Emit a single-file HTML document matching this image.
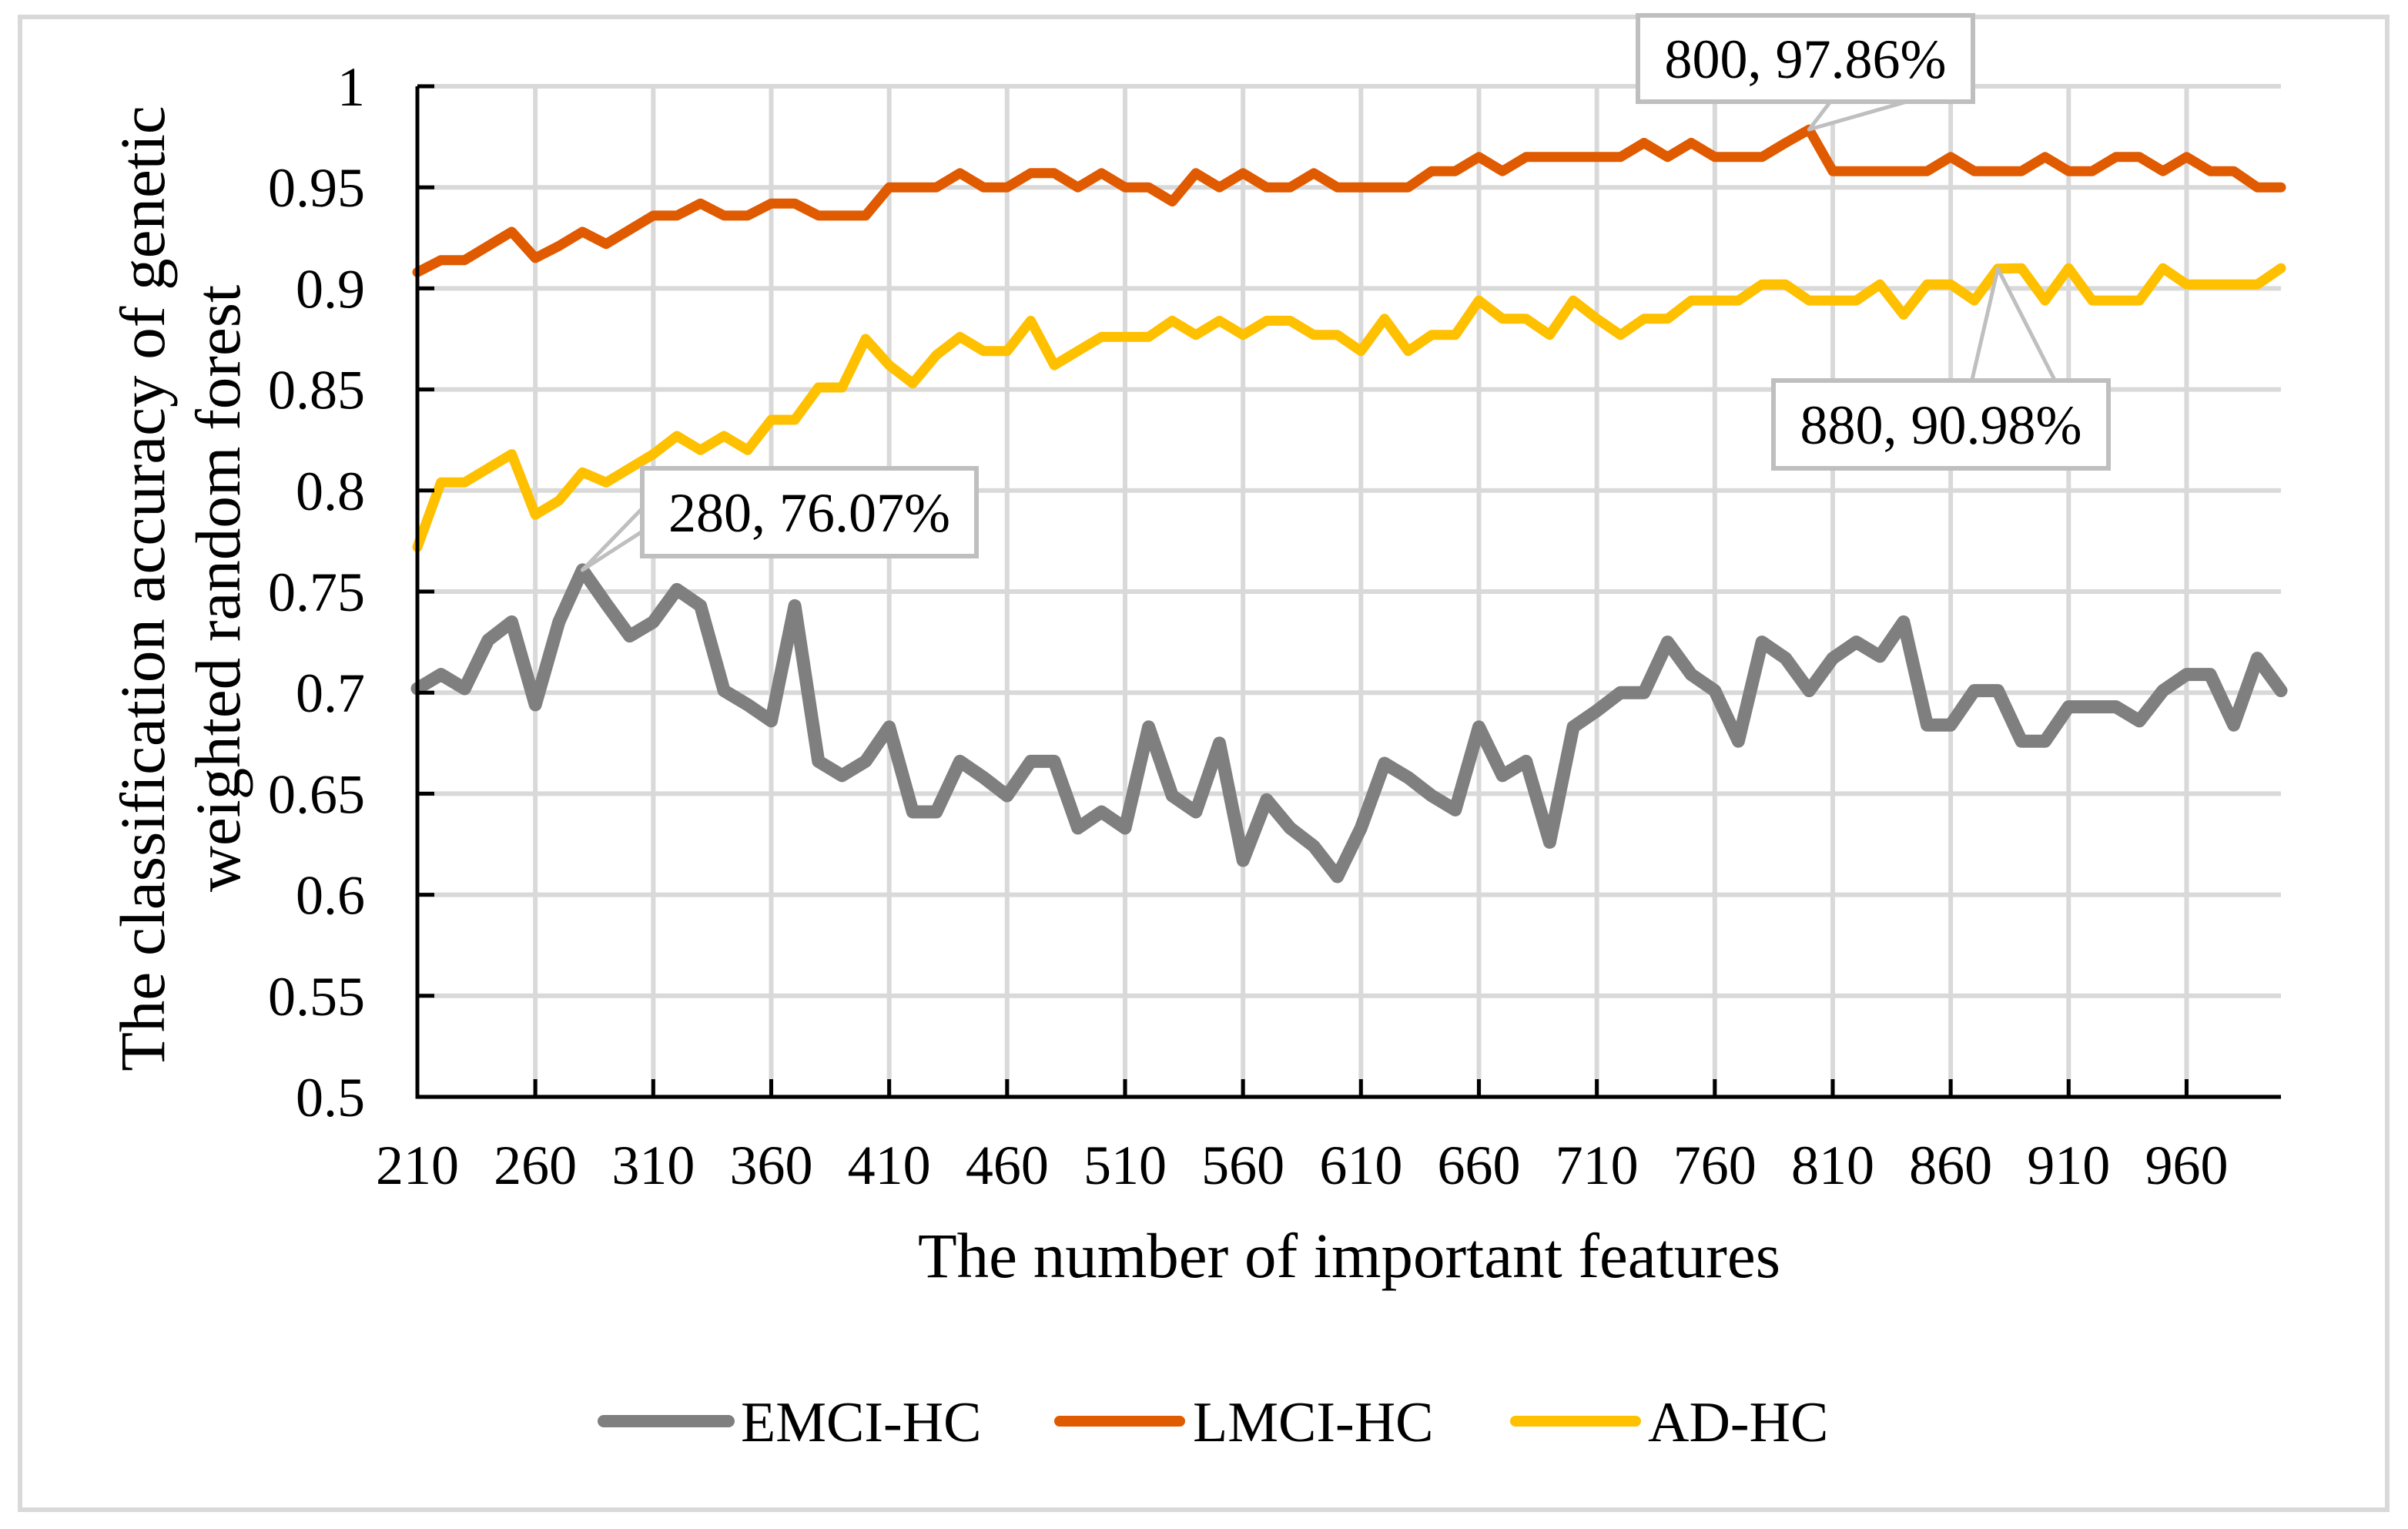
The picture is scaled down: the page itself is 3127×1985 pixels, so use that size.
<!DOCTYPE html>
<html><head><meta charset="utf-8"><style>
html,body{margin:0;padding:0;background:#fff}
svg{display:block;font-family:"Liberation Serif","Times New Roman",serif}
</style></head><body>
<svg id="chart" width="3127" height="1985" viewBox="0 0 3127 1985" xmlns="http://www.w3.org/2000/svg">
<rect x="26" y="22" width="3074" height="1938" fill="#fff" stroke="#d9d9d9" stroke-width="6"/>
<g id="grid"></g>
<g id="series"></g>
<g id="axes"></g>
<g id="callouts"></g>
<text x="185" y="764" transform="rotate(-90 185 764)" font-size="83" text-anchor="middle" dominant-baseline="central">The classification accuracy of genetic</text>
<text x="283" y="764" transform="rotate(-90 283 764)" font-size="83" text-anchor="middle" dominant-baseline="central">weighted random forest</text>
<text x="1752" y="1658" font-size="83" text-anchor="middle">The number of important features</text>
<g>
<g><line x1="784" y1="1845" x2="946" y2="1845" stroke="#7f7f7f" stroke-width="16" stroke-linecap="round"/><text x="962" y="1871" font-size="74">EMCI-HC</text></g>
<g><line x1="1376" y1="1845" x2="1532" y2="1845" stroke="#e05a00" stroke-width="14" stroke-linecap="round"/><text x="1549" y="1871" font-size="74">LMCI-HC</text></g>
<g><line x1="1968" y1="1845" x2="2124" y2="1845" stroke="#ffc000" stroke-width="14" stroke-linecap="round"/><text x="2140" y="1871" font-size="74">AD-HC</text></g>
</g>
</svg>
<script>
const categories = [];
for (let v = 210; v <= 1000; v += 10) categories.push(v);
const emci = [0.702,0.709,0.702,0.726,0.735,0.694,0.735,0.7607,0.744,0.728,0.735,0.751,0.743,0.701,0.694,0.686,0.743,0.666,0.659,0.666,
0.683,0.641,0.641,0.666,0.658,0.649,0.666,0.666,0.633,0.641,0.633,0.683,0.649,0.641,0.675,0.617,0.647,0.633,0.624,0.609,
0.633,0.665,0.658,0.649,0.642,0.683,0.659,0.666,0.626,0.683,0.691,0.700,0.700,0.725,0.709,0.701,0.676,0.725,0.717,0.701,
0.717,0.725,0.718,0.735,0.684,0.684,0.701,0.701,0.676,0.676,0.693,0.693,0.693,0.686,0.701,0.709,0.709,0.684,0.717,0.701];
const lmci = [0.908,0.914,0.914,0.921,0.928,0.915,0.921,0.928,0.922,0.929,0.936,0.936,0.942,0.936,0.936,0.942,0.942,0.936,0.936,0.936,
0.95,0.95,0.95,0.957,0.95,0.95,0.957,0.957,0.95,0.957,0.95,0.95,0.943,0.957,0.95,0.957,0.95,0.95,0.957,0.95,
0.95,0.95,0.95,0.958,0.958,0.965,0.958,0.965,0.965,0.965,0.965,0.965,0.972,0.965,0.972,0.965,0.965,0.965,0.972,0.9786,
0.958,0.958,0.958,0.958,0.958,0.965,0.958,0.958,0.958,0.965,0.958,0.958,0.965,0.965,0.958,0.965,0.958,0.958,0.95,0.95];
const ad = [0.772,0.804,0.804,0.811,0.818,0.788,0.795,0.809,0.804,0.811,0.818,0.827,0.820,0.827,0.820,0.835,0.835,0.851,0.851,0.875,
0.862,0.853,0.867,0.876,0.869,0.869,0.884,0.862,0.869,0.876,0.876,0.876,0.884,0.877,0.884,0.877,0.884,0.884,0.877,0.877,
0.869,0.885,0.869,0.877,0.877,0.894,0.885,0.885,0.877,0.894,0.885,0.877,0.885,0.885,0.894,0.894,0.894,0.902,0.902,0.894,
0.894,0.894,0.902,0.887,0.902,0.902,0.894,0.9098,0.910,0.894,0.910,0.894,0.894,0.894,0.910,0.902,0.902,0.902,0.902,0.910];
const yTicks = [0.5,0.55,0.6,0.65,0.7,0.75,0.8,0.85,0.9,0.95,1];
const yTickLabels = ["0.5","0.55","0.6","0.65","0.7","0.75","0.8","0.85","0.9","0.95","1"];
const xTickLabels = [210,260,310,360,410,460,510,560,610,660,710,760,810,860,910,960];

const X0 = 542, X1 = 2962, Y0 = 1424, Y1 = 112, YMIN = 0.5, YMAX = 1;
const step = (X1 - X0) / (categories.length - 1);
function xPos(cat) { return X0 + categories.indexOf(cat) * step; }
function xIdx(i) { return X0 + i * step; }
function yPos(v) { return Y0 - (v - YMIN) / (YMAX - YMIN) * (Y0 - Y1); }
const NS = "http://www.w3.org/2000/svg";
function mk(tag, attrs, parent) { const e = document.createElementNS(NS, tag); for (const k in attrs) e.setAttribute(k, attrs[k]); parent.appendChild(e); return e; }
const grid = document.getElementById('grid'), axes = document.getElementById('axes'), ser = document.getElementById('series'), co = document.getElementById('callouts');

yTicks.forEach((t, k) => {
  const y = yPos(t);
  const g = mk('line', {x1: X0, x2: X1, y1: y, y2: y, stroke: '#d9d9d9', 'stroke-width': 6}, grid);
  
  
  const tk = mk('line', {x1: X0, x2: X0 + 22, y1: y, y2: y, stroke: '#000', 'stroke-width': 5}, axes);
  
  
  const tx = mk('text', {x: 474, y: y + 25, 'font-size': 72, 'text-anchor': 'end'}, axes);
  tx.textContent = yTickLabels[k];
  
  
});
xTickLabels.forEach(c => {
  const x = xPos(c);
  if (c !== 210) {
    const g = mk('line', {x1: x, x2: x, y1: Y1, y2: Y0, stroke: '#d9d9d9', 'stroke-width': 6}, grid);
    
    
    const tk = mk('line', {x1: x, x2: x, y1: Y0 - 23, y2: Y0, stroke: '#000', 'stroke-width': 5}, axes);
    
    
  }
  const tx = mk('text', {x: x, y: 1537, 'font-size': 72, 'text-anchor': 'middle'}, axes);
  tx.textContent = String(c);
  
  
});
const ax = mk('path', {d: `M${X0} ${Y1} L${X0} ${Y0} L${X1} ${Y0}`, fill: 'none', stroke: '#000', 'stroke-width': 5}, axes);



function drawSeries(vals, color, w, name) {
  const d = vals.map((v, i) => (i ? 'L' : 'M') + xIdx(i).toFixed(1) + ' ' + yPos(v).toFixed(1)).join(' ');
  const p = mk('path', {d: d, fill: 'none', stroke: color, 'stroke-width': w, 'stroke-linejoin': 'round', 'stroke-linecap': 'round'}, ser);
  
  
}
drawSeries(emci, '#7f7f7f', 17, 'emci-hc-line');
drawSeries(lmci, '#e05a00', 13, 'lmci-hc-line');
drawSeries(ad, '#ffc000', 13, 'ad-hc-line');

function callout(cat, val, bx, by, bw, bh, tail, label, name) {
  const px = xPos(cat), py = yPos(val);
  const t = mk('polygon', {points: `${tail[0]},${tail[1]} ${px},${py} ${tail[2]},${tail[3]}`, fill: '#fff', stroke: '#bfbfbf', 'stroke-width': 5, 'stroke-linejoin': 'round'}, co);
  
  
  const r = mk('rect', {x: bx, y: by, width: bw, height: bh, fill: '#fff', stroke: '#bfbfbf', 'stroke-width': 6}, co);
  
  
  const tx = mk('text', {x: bx + bw / 2, y: by + bh / 2 + 25, 'font-size': 72, 'text-anchor': 'middle'}, co);
  tx.textContent = label;
  
  
}
callout(800, 0.9786, 2127, 20, 435, 112, [2380,128,2490,128], '800, 97.86%', 'max-lmci-callout');
callout(280, 0.7607, 834, 608, 434, 114, [834,660,834,690], '280, 76.07%', 'max-emci-callout');
callout(880, 0.9098, 2303, 494, 435, 114, [2560,497,2670,497], '880, 90.98%', 'max-ad-callout');
</script>
</body></html>
